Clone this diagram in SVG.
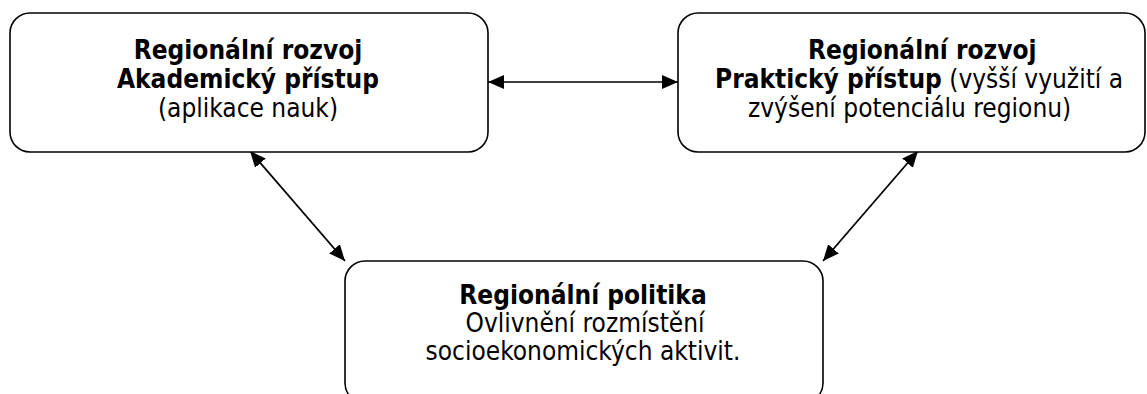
<svg xmlns="http://www.w3.org/2000/svg" width="1147" height="394" viewBox="0 0 1147 394">
<style>
.box{fill:#fff;stroke:#000;stroke-width:1.6}
text{font-family:"DejaVu Sans Condensed","DejaVu Sans",sans-serif;font-stretch:condensed;font-size:26px;fill:#000}
.b{font-weight:bold}
.c{text-anchor:middle}
.con{stroke:#000;stroke-width:1.7;fill:none;marker-start:url(#ah);marker-end:url(#ah)}
</style>
<defs>
<marker id="ah" markerUnits="userSpaceOnUse" markerWidth="18" markerHeight="16" refX="16" refY="8" orient="auto-start-reverse" viewBox="0 0 18 16">
<path d="M0,1 L16,8 L0,15 Z" fill="#000"/>
</marker>
</defs>
<rect width="1147" height="394" fill="#fff"/>
<g id="connectors">
<line class="con" x1="488" y1="82" x2="678" y2="82"/>
<line class="con" x1="250" y1="151" x2="345" y2="261"/>
<line class="con" x1="918" y1="151" x2="823" y2="261"/>
</g>
<g id="node-akademicky">
<rect class="box" x="10" y="13" width="478" height="139" rx="20" ry="20"/>
<text class="b c" x="248" y="58.5">Regionální rozvoj</text>
<text class="b c" x="248" y="87.5">Akademický přístup</text>
<text class="c" x="248" y="116.5">(aplikace nauk)</text>
</g>
<g id="node-prakticky">
<rect class="box" x="678" y="13" width="467" height="139" rx="20" ry="20"/>
<text class="b" x="808" y="58.5">Regionální rozvoj</text>
<text x="715" y="87.5"><tspan class="b">Praktický přístup</tspan> (vyšší využití a</text>
<text x="748" y="116.5">zvýšení potenciálu regionu)</text>
</g>
<g id="node-politika">
<rect class="box" x="345" y="261" width="478" height="142" rx="20" ry="20"/>
<text class="b c" x="583" y="304">Regionální politika</text>
<text class="c" x="585" y="332">Ovlivnění rozmístění</text>
<text class="c" x="583" y="360">socioekonomických aktivit.</text>
</g>
</svg>
